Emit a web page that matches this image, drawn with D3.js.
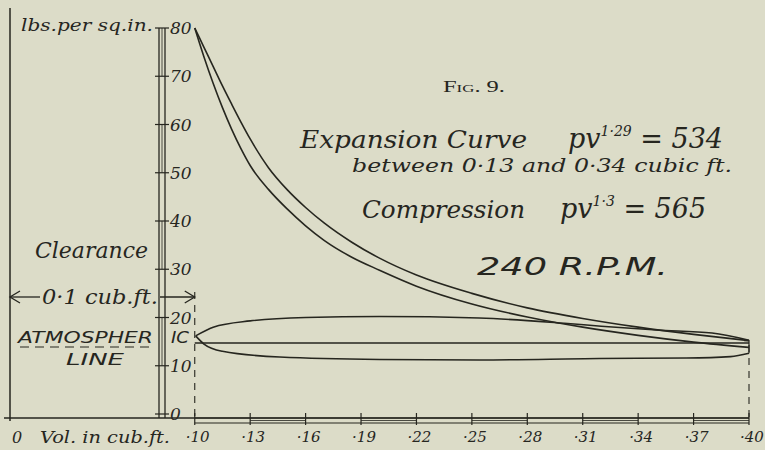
<!DOCTYPE html>
<html>
<head>
<meta charset="utf-8">
<script src="https://cdn.jsdelivr.net/npm/d3@7"></script>
<style>
  html, body { margin: 0; padding: 0; background: #dcdcc8; }
  svg { display: block; }
  text { fill: #26261f; font-family: "DejaVu Serif", serif; font-style: italic; }
  text.hand { font-family: "DejaVu Sans", sans-serif; font-style: oblique; }
</style>
</head>
<body>
<svg width="765" height="450"></svg>
<script>
// ---- data ----
const pressureTicks = [0, 10, 20, 30, 40, 50, 60, 70, 80];
const volumeTicks = [0.10, 0.13, 0.16, 0.19, 0.22, 0.25, 0.28, 0.31, 0.34, 0.37, 0.40];
const volumeLabels = ["·10", "·13", "·16", "·19", "·22", "·25", "·28", "·31", "·34", "·37", "·40"];
const atmosphere = 14.7;
const clearance = 0.1;

// [volume cu.ft, pressure lbs/sq.in]
const compressionCurve = [
  [0.100, 80], [0.105, 76], [0.110, 72], [0.115, 68], [0.120, 64.2], [0.125, 60.5],
  [0.130, 57], [0.140, 51], [0.150, 46.5], [0.160, 42.8], [0.170, 39.6], [0.185, 35.6],
  [0.200, 32.3], [0.220, 28.8], [0.250, 25], [0.280, 22], [0.310, 19.8], [0.340, 18],
  [0.370, 16.5], [0.400, 15.2],
];
const expansionCurve = [
  [0.100, 80], [0.105, 74], [0.110, 68.5], [0.115, 63.5], [0.120, 59], [0.125, 55],
  [0.130, 51.5], [0.140, 46.5], [0.150, 42.5], [0.160, 39], [0.170, 36], [0.185, 32.5],
  [0.200, 29.8], [0.220, 26.5], [0.250, 22.8], [0.280, 20.1], [0.310, 18], [0.340, 16.3],
  [0.370, 14.9], [0.400, 13.8],
];
const loopTop = [
  [0.1005, 16.2], [0.11, 18], [0.13, 19.3], [0.16, 20], [0.20, 20.2],
  [0.254, 19.9], [0.30, 18.8], [0.32, 18.2], [0.35, 17.4], [0.38, 16.8], [0.40, 15.3],
];
const loopBottom = [
  [0.1005, 16.2], [0.105, 14.5], [0.115, 13], [0.146, 11.8], [0.20, 11.3],
  [0.254, 11.2], [0.319, 11.5], [0.366, 11.6], [0.39, 11.9], [0.40, 12.6],
];

const ink = "#26261f";
const svg = d3.select("svg");

const x = d3.scaleLinear().domain([0, 0.40]).range([10, 749]);
const y = d3.scaleLinear().domain([0, 80]).range([414, 28]);

const g = svg.append("g").attr("stroke", ink).attr("fill", "none");

// left frame line (zero volume) and base line
g.append("line").attr("x1", x(0)).attr("x2", x(0)).attr("y1", 8).attr("y2", 421).attr("stroke-width", 1.5);
g.append("line").attr("x1", 4).attr("x2", x(0.40)).attr("y1", 418).attr("y2", 418).attr("stroke-width", 1.4);

// pressure scale (double rule)
[159, 165].forEach((xx) =>
  g.append("line").attr("x1", xx).attr("x2", xx).attr("y1", y(80)).attr("y2", 418).attr("stroke-width", 1.3)
);
pressureTicks.forEach((t, i) => {
  g.append("line").attr("x1", 155).attr("x2", 169).attr("y1", y(t)).attr("y2", y(t)).attr("stroke-width", 1.2);
  if (i < pressureTicks.length - 1 && i % 2 === 1) {
    g.append("line").attr("x1", 162).attr("x2", 162)
      .attr("y1", y(t)).attr("y2", y(pressureTicks[i + 1])).attr("stroke-width", 0.8);
  }
});
svg.selectAll(".ptick")
  .data(pressureTicks)
  .join("text")
  .attr("x", 170)
  .attr("y", (d) => y(d) + 6)
  .attr("font-size", 17)
  .text((d) => d);

// volume scale bar
[418, 423].forEach((yy) =>
  g.append("line").attr("x1", x(0.10)).attr("x2", x(0.40)).attr("y1", yy).attr("y2", yy).attr("stroke-width", 1.2)
);
volumeTicks.forEach((t, i) => {
  g.append("line").attr("x1", x(t)).attr("x2", x(t)).attr("y1", 413).attr("y2", 425).attr("stroke-width", 1.2);
  if (i < volumeTicks.length - 1 && i % 2 === 1) {
    g.append("line").attr("x1", x(t)).attr("x2", x(volumeTicks[i + 1]))
      .attr("y1", 420.5).attr("y2", 420.5).attr("stroke-width", 0.8);
  }
});
svg.selectAll(".vtick")
  .data(volumeTicks)
  .join("text")
  .attr("x", (d) => x(d) + 3)
  .attr("y", 442)
  .attr("text-anchor", "middle")
  .attr("font-size", 15)
  .text((d, i) => volumeLabels[i]);

// dashed ordinates at 0.10 and 0.40
g.append("line").attr("x1", x(0.10)).attr("x2", x(0.10)).attr("y1", 292).attr("y2", 418)
  .attr("stroke-width", 1.1).attr("stroke-dasharray", "7,6");
g.append("line").attr("x1", x(0.40)).attr("x2", x(0.40)).attr("y1", 345).attr("y2", 418)
  .attr("stroke-width", 1.1).attr("stroke-dasharray", "7,6");

// diagram curves
const line = d3.line().x((d) => x(d[0])).y((d) => y(d[1])).curve(d3.curveMonotoneX);
[compressionCurve, expansionCurve, loopTop, loopBottom].forEach((c) =>
  g.append("path").attr("d", line(c)).attr("stroke-width", 1.6)
);
// atmospheric line
g.append("line").attr("x1", x(0.10)).attr("x2", x(0.40)).attr("y1", y(atmosphere)).attr("y2", y(atmosphere))
  .attr("stroke-width", 1.4);
g.append("line").attr("x1", 20).attr("x2", 152).attr("y1", 347).attr("y2", 347)
  .attr("stroke-width", 1.1).attr("stroke-dasharray", "9,6");
// small closing triangle at the far end
g.append("path")
  .attr("d", `M${x(0.40) - 5},${y(15.2)}L${x(0.40)},${y(15.2)}L${x(0.40)},${y(12.6)}`)
  .attr("stroke-width", 1.2);

// clearance arrow
const ay = 297;
g.append("line").attr("x1", x(0)).attr("x2", 40).attr("y1", ay).attr("y2", ay).attr("stroke-width", 1.3);
g.append("path").attr("d", `M${x(0) + 10},${ay - 6}L${x(0)},${ay}L${x(0) + 10},${ay + 6}`).attr("stroke-width", 1.3);
g.append("line").attr("x1", 160).attr("x2", x(clearance)).attr("y1", ay).attr("y2", ay).attr("stroke-width", 1.3);
g.append("path").attr("d", `M${x(clearance) - 10},${ay - 6}L${x(clearance)},${ay}L${x(clearance) - 10},${ay + 6}`).attr("stroke-width", 1.3);

// ---- text ----
function label(tx, ty, size, str, len) {
  const t = svg.append("text").attr("x", tx).attr("y", ty).attr("font-size", size).text(str);
  if (len) t.attr("textLength", len).attr("lengthAdjust", "spacingAndGlyphs");
  return t;
}

label(21, 31, 17, "lbs.per sq.in.", 132);
label(12, 443, 16, "0");
label(40, 443, 16, "Vol. in cub.ft.", 130);
label(35, 258, 22, "Clearance", 113);
label(42, 304, 20, "0·1 cub.ft.", 116);
label(18, 343, 15, "ATMOSPHER", 135).attr("class", "hand");
label(171, 343, 15, "IC", 18).attr("class", "hand");
label(66, 365, 15, "LINE", 58).attr("class", "hand");

label(443, 92, 16, "Fig. 9.", 62)
  .style("font-style", "normal")
  .style("font-family", "'Liberation Serif', serif")
  .style("font-variant", "small-caps");

label(300, 148, 25, "Expansion Curve", 227);
const eq1 = label(568, 148, 27, "pv");
eq1.append("tspan").attr("font-size", 14).attr("dy", -12).text("1·29");
eq1.append("tspan").attr("dy", 12).text(" = 534");
label(352, 172, 19, "between 0·13 and 0·34 cubic ft.", 380);

label(362, 218, 25, "Compression", 163);
const eq2 = label(560, 218, 27, "pv");
eq2.append("tspan").attr("font-size", 14).attr("dy", -12).text("1·3");
eq2.append("tspan").attr("dy", 12).text(" = 565");

label(477, 275, 25, "240 R.P.M.", 191).attr("class", "hand");
</script>
</body>
</html>
